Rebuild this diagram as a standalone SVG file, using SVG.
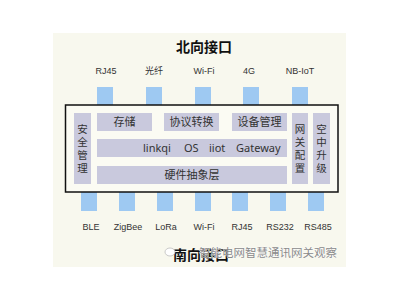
<svg xmlns="http://www.w3.org/2000/svg" width="400" height="300" viewBox="0 0 400 300">
<style>
.port{fill:#9ec9f2}
.blk{fill:#c9c9dd}
.t{font-family:"Noto Sans CJK SC","Liberation Sans",sans-serif;fill:#333;text-anchor:middle}
.lbl{font-size:9px;font-family:"Liberation Sans","Noto Sans CJK SC",sans-serif}
.in{font-size:11px}
.v{font-size:10.5px;writing-mode:vertical-rl;letter-spacing:2.5px}
.title{font-size:14px;font-weight:bold;fill:#111}
</style>
<rect x="0" y="0" width="400" height="300" fill="#ffffff"/>
<rect x="53" y="33" width="293" height="234" fill="#f8f8ee"/>
<text class="t title" x="204" y="52">北向接口</text>
<g id="north-labels">
<text class="t lbl" x="106" y="74">RJ45</text>
<text class="t lbl" x="154" y="74">光纤</text>
<text class="t lbl" x="204" y="74">Wi-Fi</text>
<text class="t lbl" x="249" y="74">4G</text>
<text class="t lbl" x="300" y="74">NB-IoT</text>
</g>
<g id="north-ports">
<rect class="port" x="97" y="87" width="16" height="18"/>
<rect class="port" x="146" y="87" width="16" height="18"/>
<rect class="port" x="195" y="87" width="16" height="18"/>
<rect class="port" x="243" y="87" width="16" height="18"/>
<rect class="port" x="292" y="87" width="16" height="18"/>
</g>
<g id="south-ports">
<rect class="port" x="81" y="192" width="16" height="19"/>
<rect class="port" x="119" y="192" width="16" height="19"/>
<rect class="port" x="157" y="192" width="16" height="19"/>
<rect class="port" x="195" y="192" width="16" height="19"/>
<rect class="port" x="232" y="192" width="16" height="19"/>
<rect class="port" x="270" y="192" width="16" height="19"/>
<rect class="port" x="308" y="192" width="16" height="19"/>
</g>
<g id="gateway">
<rect x="65.5" y="105" width="272.5" height="87" fill="#fbfbf3" stroke="#111" stroke-width="1.5"/>
</g>
<g id="security">
<rect class="blk" x="74" y="113" width="17" height="71"/>
<text class="t v" x="82.5" y="149.5">安全管理</text>
</g>
<g id="storage">
<rect class="blk" x="97" y="113" width="55" height="18"/>
<text class="t in" x="124.5" y="126">存储</text>
</g>
<g id="protocol">
<rect class="blk" x="164" y="113" width="55" height="18"/>
<text class="t in" x="191.5" y="126">协议转换</text>
</g>
<g id="device">
<rect class="blk" x="232" y="113" width="55" height="18"/>
<text class="t in" x="259.5" y="126">设备管理</text>
</g>
<g id="os">
<rect class="blk" x="97" y="139" width="190" height="18"/>
<text class="t in" style="text-anchor:start;font-family:'Noto Sans','Liberation Sans',sans-serif" y="152"><tspan x="143">linkqi</tspan><tspan x="184">OS</tspan><tspan x="209">iiot</tspan><tspan x="236">Gateway</tspan></text>
</g>
<g id="hal">
<rect class="blk" x="97" y="166" width="190" height="18"/>
<text class="t in" x="192" y="179">硬件抽象层</text>
</g>
<g id="config">
<rect class="blk" x="292" y="113" width="16" height="71"/>
<text class="t v" x="300" y="149.5">网关配置</text>
</g>
<g id="ota">
<rect class="blk" x="313" y="113" width="17" height="71"/>
<text class="t v" x="321.5" y="149.5">空中升级</text>
</g>
<g id="south-labels">
<text class="t lbl" x="91" y="230">BLE</text>
<text class="t lbl" x="128" y="230">ZigBee</text>
<text class="t lbl" x="166" y="230">LoRa</text>
<text class="t lbl" x="204" y="230">Wi-Fi</text>
<text class="t lbl" x="242" y="230">RJ45</text>
<text class="t lbl" x="280" y="230">RS232</text>
<text class="t lbl" x="318" y="230">RS485</text>
</g>
<text class="t title" x="201" y="260">南向接口</text>
<g id="watermark">
<ellipse cx="170" cy="252" rx="5" ry="4" fill="#ffffff" stroke="#bbb" stroke-width="0.8"/>
<text x="337" y="257" style="font-family:'Noto Sans CJK SC',sans-serif;font-size:11.5px;fill:#8a8a8a;stroke:#ffffff;stroke-width:0.6;paint-order:stroke;text-anchor:end">智能电网智慧通讯网关观察</text>
</g>
</svg>
